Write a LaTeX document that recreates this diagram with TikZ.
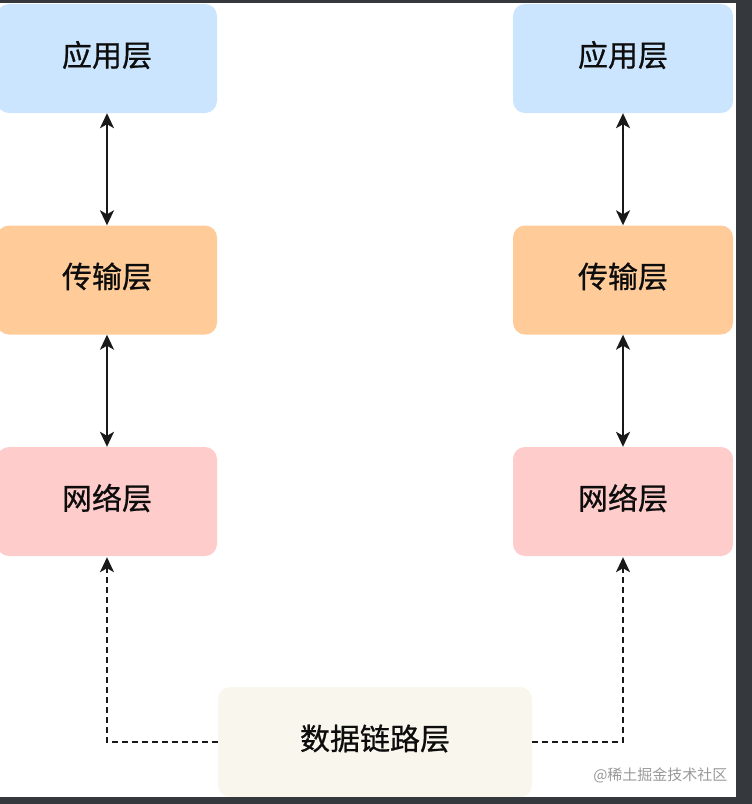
\documentclass[tikz,border=0pt]{standalone}
\usepackage{fontspec}
\usetikzlibrary{positioning, arrows.meta}
\newfontfamily\cjk{Noto Sans CJK SC}
\newfontfamily\cjkmed[FakeBold=0.7]{Noto Sans CJK SC}
\newcommand{\lift}[1]{\raisebox{3.5pt}[\height][\depth]{#1}}
\definecolor{appblue}{HTML}{CCE5FF}
\definecolor{transorange}{HTML}{FFCC99}
\definecolor{netpink}{HTML}{FFCCCC}
\definecolor{linkcream}{HTML}{F9F7ED}
\definecolor{framegray}{HTML}{35383D}

\begin{document}
\begin{tikzpicture}[
    x=1pt, y=-1pt,
    >={Stealth[length=15pt, width=14pt, inset=4pt]},
    layer/.style={rectangle, rounded corners=12pt, minimum width=220pt, minimum height=109pt, inner sep=0pt, text=black!95, font=\cjkmed\fontsize{30}{34}\selectfont},
    applayer/.style={layer, fill=appblue},
    translayer/.style={layer, fill=transorange},
    netlayer/.style={layer, fill=netpink},
    linklayer/.style={layer, fill=linkcream, minimum width=314pt, minimum height=110pt},
    duplex/.style={<->, line width=2pt, black!90},
    uplink/.style={->, line width=2pt, black!90, dash pattern=on 6pt off 4pt, shorten >=1pt},
]
\useasboundingbox (0,0) rectangle (752,804);
\fill[white] (0,0) rectangle (752,804);

% === Left stack ===
\node[applayer] (appL) at (107, 58.5) {\lift{应用层}};
\node[translayer] (transL) at (107, 280) {\lift{传输层}};
\node[netlayer] (netL) at (107, 501.5) {\lift{网络层}};

% === Right stack ===
\node[applayer] (appR) at (623, 58.5) {\lift{应用层}};
\node[translayer] (transR) at (623, 280) {\lift{传输层}};
\node[netlayer] (netR) at (623, 501.5) {\lift{网络层}};

% === Shared link layer ===
\node[linklayer] (link) at (375, 742) {\lift{数据链路层}};

% === Arrows between layers ===
\draw[duplex] (appL) -- (transL);
\draw[duplex] (transL) -- (netL);
\draw[duplex] (appR) -- (transR);
\draw[duplex] (transR) -- (netR);

% === Dashed links up to the network layers ===
\draw[uplink] (link.west) -| (netL.south);
\draw[uplink] (link.east) -| (netR.south);

% === Watermark ===
\node[font=\cjk\fontsize{15}{18}\selectfont, text=black!40, anchor=east] (mark) at (731, 775) {@稀土掘金技术社区};

% === Screenshot frame ===
\fill[framegray] (0,0) rectangle (752,3);
\fill[framegray] (736,0) rectangle (752,804);
\fill[framegray] (0,797) rectangle (752,804);

\end{tikzpicture}
\end{document}
